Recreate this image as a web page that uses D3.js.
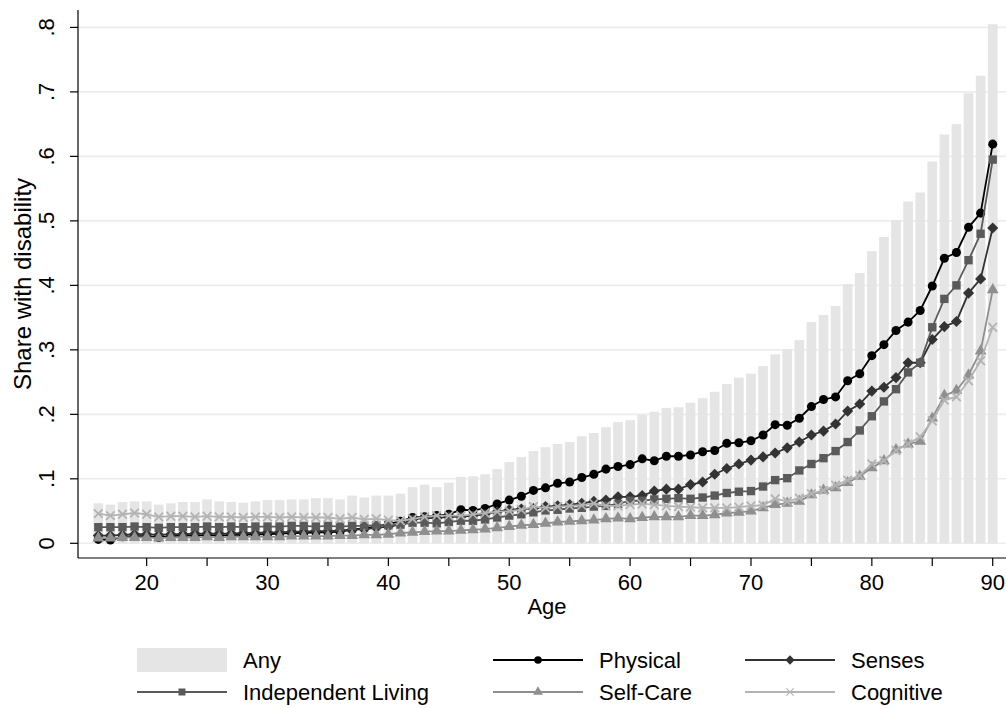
<!DOCTYPE html>
<html>
<head>
<meta charset="utf-8">
<script src="https://cdn.jsdelivr.net/npm/d3@7"></script>
<style>
	body { margin: 0; background: #fff; }
	svg { display: block; font-family: "Liberation Sans", Arial, Helvetica, sans-serif; }
</style>
</head>
<body>
<div id="chart"></div>
<script>
// 나이 16 ~ 90
const ages = d3.range(16, 91);

const anyShare = [
	.062, .060, .064, .065, .065, .060, .062, .064, .064, .068, .065, .064, .063, .065, .067,
	.067, .068, .068, .070, .070, .068, .074, .071, .074, .074, .077, .087, .091, .087, .094,
	.103, .104, .107, .115, .126, .134, .143, .149, .154, .157, .166, .171, .180, .188, .191,
	.199, .204, .210, .211, .218, .225, .235, .247, .257, .263, .275, .293, .301, .315, .343,
	.354, .368, .402, .419, .453, .475, .501, .530, .544, .592, .634, .650, .698, .725, .805
];
const physical = [
	.006, .005, .010, .011, .011, .009, .011, .012, .012, .013, .012, .013, .013, .014, .014,
	.015, .016, .016, .017, .017, .018, .021, .023, .026, .030, .034, .040, .041, .043, .045,
	.052, .051, .054, .061, .067, .073, .082, .086, .093, .095, .102, .107, .115, .119, .122,
	.131, .128, .135, .135, .137, .142, .144, .155, .156, .159, .168, .184, .183, .194, .212,
	.223, .227, .252, .263, .291, .308, .330, .343, .361, .399, .442, .451, .490, .512, .619
];
const senses = [
	.012, .012, .013, .014, .014, .013, .014, .014, .015, .015, .015, .015, .016, .016, .017,
	.017, .018, .018, .019, .019, .020, .021, .022, .024, .026, .029, .037, .039, .039, .041,
	.041, .043, .045, .049, .052, .053, .054, .057, .058, .060, .062, .065, .067, .072, .072,
	.074, .081, .084, .084, .091, .095, .107, .116, .123, .129, .134, .140, .148, .157, .168,
	.174, .185, .205, .216, .236, .242, .257, .280, .280, .316, .336, .344, .388, .410, .489
];
const independentLiving = [
	.025, .025, .025, .026, .025, .024, .025, .025, .025, .026, .025, .026, .025, .026, .026,
	.026, .027, .027, .026, .027, .026, .027, .027, .028, .028, .029, .032, .032, .031, .033,
	.035, .035, .037, .040, .043, .045, .048, .051, .052, .054, .055, .057, .058, .061, .066,
	.066, .068, .069, .070, .069, .071, .074, .078, .080, .081, .088, .098, .101, .113, .123,
	.132, .143, .157, .175, .197, .220, .239, .265, .280, .335, .379, .400, .439, .480, .595
];
const selfCare = [
	.008, .008, .009, .009, .009, .008, .009, .009, .009, .010, .009, .010, .010, .010, .010,
	.010, .011, .011, .011, .011, .012, .012, .013, .013, .014, .016, .017, .018, .019, .019,
	.020, .021, .022, .024, .026, .028, .029, .031, .033, .034, .035, .036, .038, .039, .038,
	.040, .041, .041, .041, .043, .043, .044, .047, .048, .050, .055, .060, .062, .065, .075,
	.082, .086, .094, .104, .117, .128, .145, .154, .158, .194, .229, .237, .261, .298, .393
];
const cognitive = [
	.046, .043, .045, .047, .045, .041, .042, .042, .041, .042, .041, .041, .040, .041, .041,
	.040, .041, .040, .040, .040, .038, .040, .037, .038, .036, .035, .038, .041, .043, .043,
	.043, .045, .047, .049, .050, .052, .057, .055, .057, .058, .059, .062, .058, .058, .060,
	.061, .060, .058, .057, .056, .055, .055, .055, .056, .058, .059, .069, .065, .070, .077,
	.082, .090, .098, .105, .123, .128, .144, .154, .165, .190, .222, .227, .252, .283, .335
];

const xTicks = d3.range(20, 91, 10);
const xMinorTicks = d3.range(20, 91, 5);
const yTicks = d3.range(0, 0.81, 0.1);

const seriesNames = ["Physical", "Senses", "Independent Living", "Self-Care", "Cognitive"];
const seriesValues = [physical, senses, independentLiving, selfCare, cognitive];

/////////////////////////////////////////////////////////////////////////////////

const W = 1006, H = 709;
const plot = {left: 78, right: 1006, top: 10, bottom: 558};

const svg = d3.select("#chart").append("svg")
	.attr("width", W)
	.attr("height", H);

const x = d3.scaleLinear().domain([14.32, 91.1]).range([plot.left, plot.right]);
const y = d3.scaleLinear().domain([-0.0228, 0.827]).range([plot.bottom, plot.top]);

const barW = (x(1) - x(0)) * 0.8;

// 시리즈 스타일
const styles = {
	"Physical":           {color: "#000000", symbol: d3.symbolCircle, size: 64, rot: 0, fill: true},
	"Senses":             {color: "#333333", symbol: d3.symbolSquare, size: 62, rot: 45, fill: true},
	"Independent Living": {color: "#5a5a5a", symbol: d3.symbolSquare, size: 70, rot: 0, fill: true},
	"Self-Care":          {color: "#8f8f8f", symbol: d3.symbolTriangle, size: 60, rot: 0, fill: true},
	"Cognitive":          {color: "#b3b3b3", symbol: d3.symbolTimes || d3.symbolX || d3.symbolCross, size: 50, rot: 0, fill: false}
};

// 격자선
svg.append("g")
	.attr("class", "grid")
	.selectAll("line")
	.data(yTicks)
	.join("line")
	.attr("x1", plot.left)
	.attr("x2", plot.right)
	.attr("y1", d => y(d))
	.attr("y2", d => y(d))
	.attr("stroke", "#ececec")
	.attr("stroke-width", 1.6);

// Any 막대
svg.append("g")
	.selectAll("rect")
	.data(ages.map((a, i) => ({age: a, value: anyShare[i]})))
	.join("rect")
	.attr("x", d => x(d.age) - barW / 2)
	.attr("width", barW)
	.attr("y", d => y(d.value))
	.attr("height", d => y(0) - y(d.value))
	.attr("fill", "#e5e5e5");

// 선 + 마커
seriesNames.forEach((name, k) => {
	const st = styles[name];
	const data = ages.map((a, i) => ({age: a, value: seriesValues[k][i]}));
	const g = svg.append("g").attr("class", "series");

	g.append("path")
		.datum(data)
		.attr("fill", "none")
		.attr("stroke", st.color)
		.attr("stroke-width", 1.8)
		.attr("d", d3.line().x(d => x(d.age)).y(d => y(d.value)));

	g.selectAll("path.mk")
		.data(data)
		.join("path")
		.attr("class", "mk")
		.attr("transform", d => `translate(${x(d.age)},${y(d.value)}) rotate(${st.rot})`)
		.attr("d", d3.symbol().type(st.symbol).size(st.size))
		.attr("fill", st.fill ? st.color : "none")
		.attr("stroke", st.fill ? "none" : st.color)
		.attr("stroke-width", st.fill ? 0 : 1.8);
});

// 축
const axisColor = "#000";
const fontSize = "22px";

svg.append("line")
	.attr("x1", plot.left).attr("x2", plot.right)
	.attr("y1", plot.bottom).attr("y2", plot.bottom)
	.attr("stroke", axisColor).attr("stroke-width", 1.2);
svg.append("line")
	.attr("x1", plot.left).attr("x2", plot.left)
	.attr("y1", plot.top).attr("y2", plot.bottom)
	.attr("stroke", axisColor).attr("stroke-width", 1.2);

svg.append("g")
	.selectAll("line")
	.data(xMinorTicks)
	.join("line")
	.attr("x1", d => x(d)).attr("x2", d => x(d))
	.attr("y1", plot.bottom).attr("y2", plot.bottom + 8)
	.attr("stroke", axisColor).attr("stroke-width", 1.2);

svg.append("g")
	.selectAll("text")
	.data(xTicks)
	.join("text")
	.attr("x", d => x(d))
	.attr("y", 590)
	.attr("text-anchor", "middle")
	.style("font-size", fontSize)
	.text(d => d);

svg.append("text")
	.attr("x", (plot.left + plot.right) / 2 + 5)
	.attr("y", 614)
	.attr("text-anchor", "middle")
	.style("font-size", fontSize)
	.text("Age");

svg.append("g")
	.selectAll("line")
	.data(yTicks)
	.join("line")
	.attr("x1", plot.left - 8).attr("x2", plot.left)
	.attr("y1", d => y(d)).attr("y2", d => y(d))
	.attr("stroke", axisColor).attr("stroke-width", 1.2);

const yFmt = v => v < 1e-9 ? "0" : d3.format(".1f")(v).replace(/^0/, "");
svg.append("g")
	.selectAll("text")
	.data(yTicks)
	.join("text")
	.attr("transform", d => `translate(54,${y(d)}) rotate(-90)`)
	.attr("text-anchor", "middle")
	.style("font-size", fontSize)
	.text(yFmt);

svg.append("text")
	.attr("transform", `translate(31,${(plot.top + plot.bottom) / 2}) rotate(-90)`)
	.attr("text-anchor", "middle")
	.style("font-size", "24px")
	.text("Share with disability");

// 범례
const legendItems = [
	{name: "Any", col: 0, row: 0},
	{name: "Physical", col: 1, row: 0},
	{name: "Senses", col: 2, row: 0},
	{name: "Independent Living", col: 0, row: 1},
	{name: "Self-Care", col: 1, row: 1},
	{name: "Cognitive", col: 2, row: 1}
];
const colX = [137, 493, 745];
const rowY = [660, 692];

const legend = svg.append("g").attr("class", "legend");
legendItems.forEach(item => {
	const lx = colX[item.col], ly = rowY[item.row];
	if (item.name === "Any") {
		legend.append("rect")
			.attr("x", lx).attr("y", ly - 12)
			.attr("width", 90).attr("height", 24)
			.attr("fill", "#e5e5e5");
	} else {
		const st = styles[item.name];
		legend.append("line")
			.attr("x1", lx).attr("x2", lx + 90)
			.attr("y1", ly).attr("y2", ly)
			.attr("stroke", st.color).attr("stroke-width", 1.8);
		legend.append("path")
			.attr("transform", `translate(${lx + 45},${ly}) rotate(${st.rot})`)
			.attr("d", d3.symbol().type(st.symbol).size(st.size * 0.7))
			.attr("fill", st.fill ? st.color : "none")
			.attr("stroke", st.fill ? "none" : st.color)
			.attr("stroke-width", st.fill ? 0 : 1.2);
	}
	legend.append("text")
		.attr("x", lx + 106)
		.attr("y", ly + 8)
		.style("font-size", fontSize)
		.text(item.name);
});
</script>
</body>
</html>
